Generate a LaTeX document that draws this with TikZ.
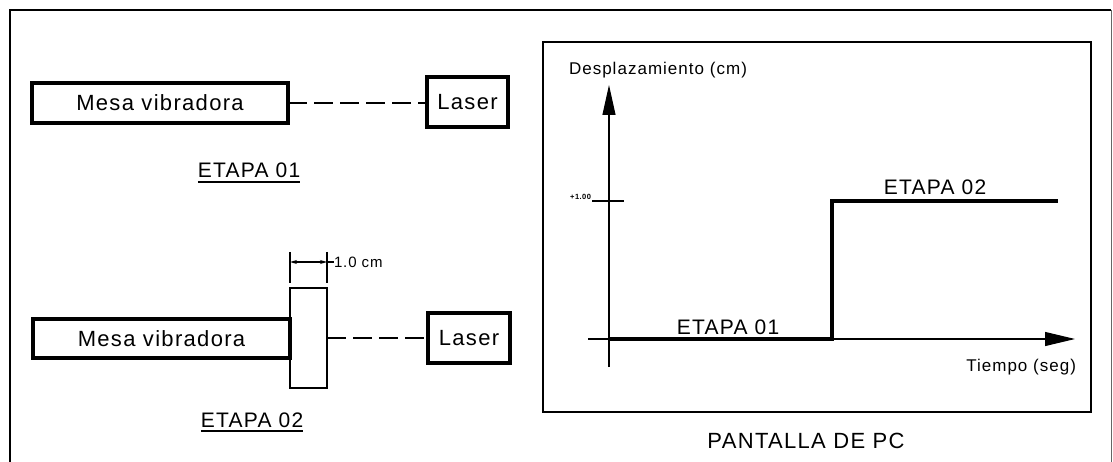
\documentclass[tikz,border=0pt]{standalone}
\usepackage{fontspec}
\setmainfont{Liberation Sans}[LetterSpace=6]
\usetikzlibrary{arrows.meta}
\tikzset{
  thickbox/.style={draw, line width=3.2pt, inner sep=0pt, outer sep=0pt, font=\fontsize{22}{24}\selectfont},
  thinbox/.style={draw, line width=1.1pt, inner sep=0pt, outer sep=0pt},
  screenbox/.style={draw, line width=2pt, inner sep=0pt, outer sep=0pt},
  lbl/.style={inner sep=0pt, outer sep=0pt, font=\fontsize{21}{23}\selectfont},
  smalllbl/.style={inner sep=0pt, outer sep=0pt, font=\fontsize{17}{19}\selectfont},
  tinylbl/.style={inner sep=0pt, outer sep=0pt, font=\bfseries\fontsize{7.5}{8}\selectfont},
  centerline/.style={line width=1.1pt, dash pattern=on 19pt off 7pt},
  thinline/.style={line width=1.1pt},
  stepline/.style={line width=3.4pt},
  frameline/.style={line width=2.2pt},
  uline/.style={line width=1.1pt},
}
\begin{document}
\begin{tikzpicture}[x=1pt,y=-1pt]
\useasboundingbox (0,0) rectangle (1113,462);
% outer frame (bottom edge cut off)
\coordinate (fbl) at (10,462);
\coordinate (ftl) at (10,10);
\coordinate (ftr) at (1111,10);
\coordinate (fbr) at (1111,462);
\draw[frameline] (fbl) -- (ftl) -- (ftr);
\draw[line width=1pt, black!60] (ftr) -- (fbr);

% ---- ETAPA 01 ----
\node[thickbox, minimum width=256pt, minimum height=40pt] (mesa1) at (160,103) {Mesa vibradora};
\node[thickbox, minimum width=81pt, minimum height=50pt] (laser1) at (467.5,102) {Laser};
\draw[centerline] (mesa1.east) -- (laser1.west |- mesa1.east);
\node[lbl, anchor=base] (et1) at (249,178) {ETAPA 01};
\draw[uline] ([yshift=-4pt]et1.base west) -- ([yshift=-4pt]et1.base east);

% ---- ETAPA 02 ----
\node[thickbox, minimum width=257pt, minimum height=39pt] (mesa2) at (161.5,338.5) {Mesa vibradora};
\node[thinbox, minimum width=37pt, minimum height=100pt] (plate) at (308.5,338) {};
\node[thickbox, minimum width=82pt, minimum height=50pt] (laser2) at (469,338) {};
\node[font=\fontsize{22}{24}\selectfont, inner sep=0pt] at (laser2.center) {Laser};
\draw[centerline] (plate.east |- laser2.west) -- (laser2.west);
% dimension
\coordinate (d1a) at (290,252); \coordinate (d1b) at (290,283);
\coordinate (d2a) at (327,252); \coordinate (d2b) at (327,283);
\draw[thinline] (d1a) -- (d1b);
\draw[thinline] (d2a) -- (d2b);
\coordinate (dl) at (290,262); \coordinate (dr) at (327,262);
\draw[thinline, {Stealth[length=7pt,width=4pt]}-{Stealth[length=7pt,width=4pt]}] (dl) -- (dr);
\node[smalllbl, anchor=west, font=\fontsize{15}{16}\selectfont] (dim) at (334,262) {1.0 cm};
\draw[thinline] (dr) -- (dim.west);
\node[lbl, anchor=base] (et2) at (252,427) {ETAPA 02};
\draw[uline] ([yshift=-4pt]et2.base west) -- ([yshift=-4pt]et2.base east);

% ---- PANTALLA DE PC ----
\node[screenbox, minimum width=548pt, minimum height=370pt] (screen) at (817,227) {};
\node[lbl, font=\fontsize{22}{24}\selectfont, anchor=base] (pc) at (806,448) {PANTALLA DE PC};
% axes
\coordinate (ybot) at (609,367);
\coordinate (ytop) at (609,85);
\coordinate (xl) at (588,339);
\coordinate (xr) at (1075,339);
\draw[thinline, -{Triangle[length=30pt,width=13pt]}] (ybot) -- (ytop);
\draw[thinline, -{Triangle[length=30pt,width=14pt]}] (xl) -- (xr);
\node[smalllbl, anchor=base west] (ylab) at (569,75) {Desplazamiento (cm)};
\node[smalllbl, anchor=base east] (xlab) at (1076,371) {Tiempo (seg)};
% tick
\coordinate (tl) at (592,201); \coordinate (tr) at (624,201);
\draw[thinline] (tl) -- (tr);
\node[tinylbl, anchor=base east] (tick) at (591,200) {+1.00};
% step response
\coordinate (s0) at (609,339);
\coordinate (s1) at (832,339);
\coordinate (s2) at (832,201);
\coordinate (s3) at (1058,201);
\draw[stepline] (s0) -- (s1) -- (s2) -- (s3);
\node[lbl, anchor=base] (g1) at (728,334) {ETAPA 01};
\node[lbl, anchor=base] (g2) at (935,195) {ETAPA 02};
\end{tikzpicture}
\end{document}
